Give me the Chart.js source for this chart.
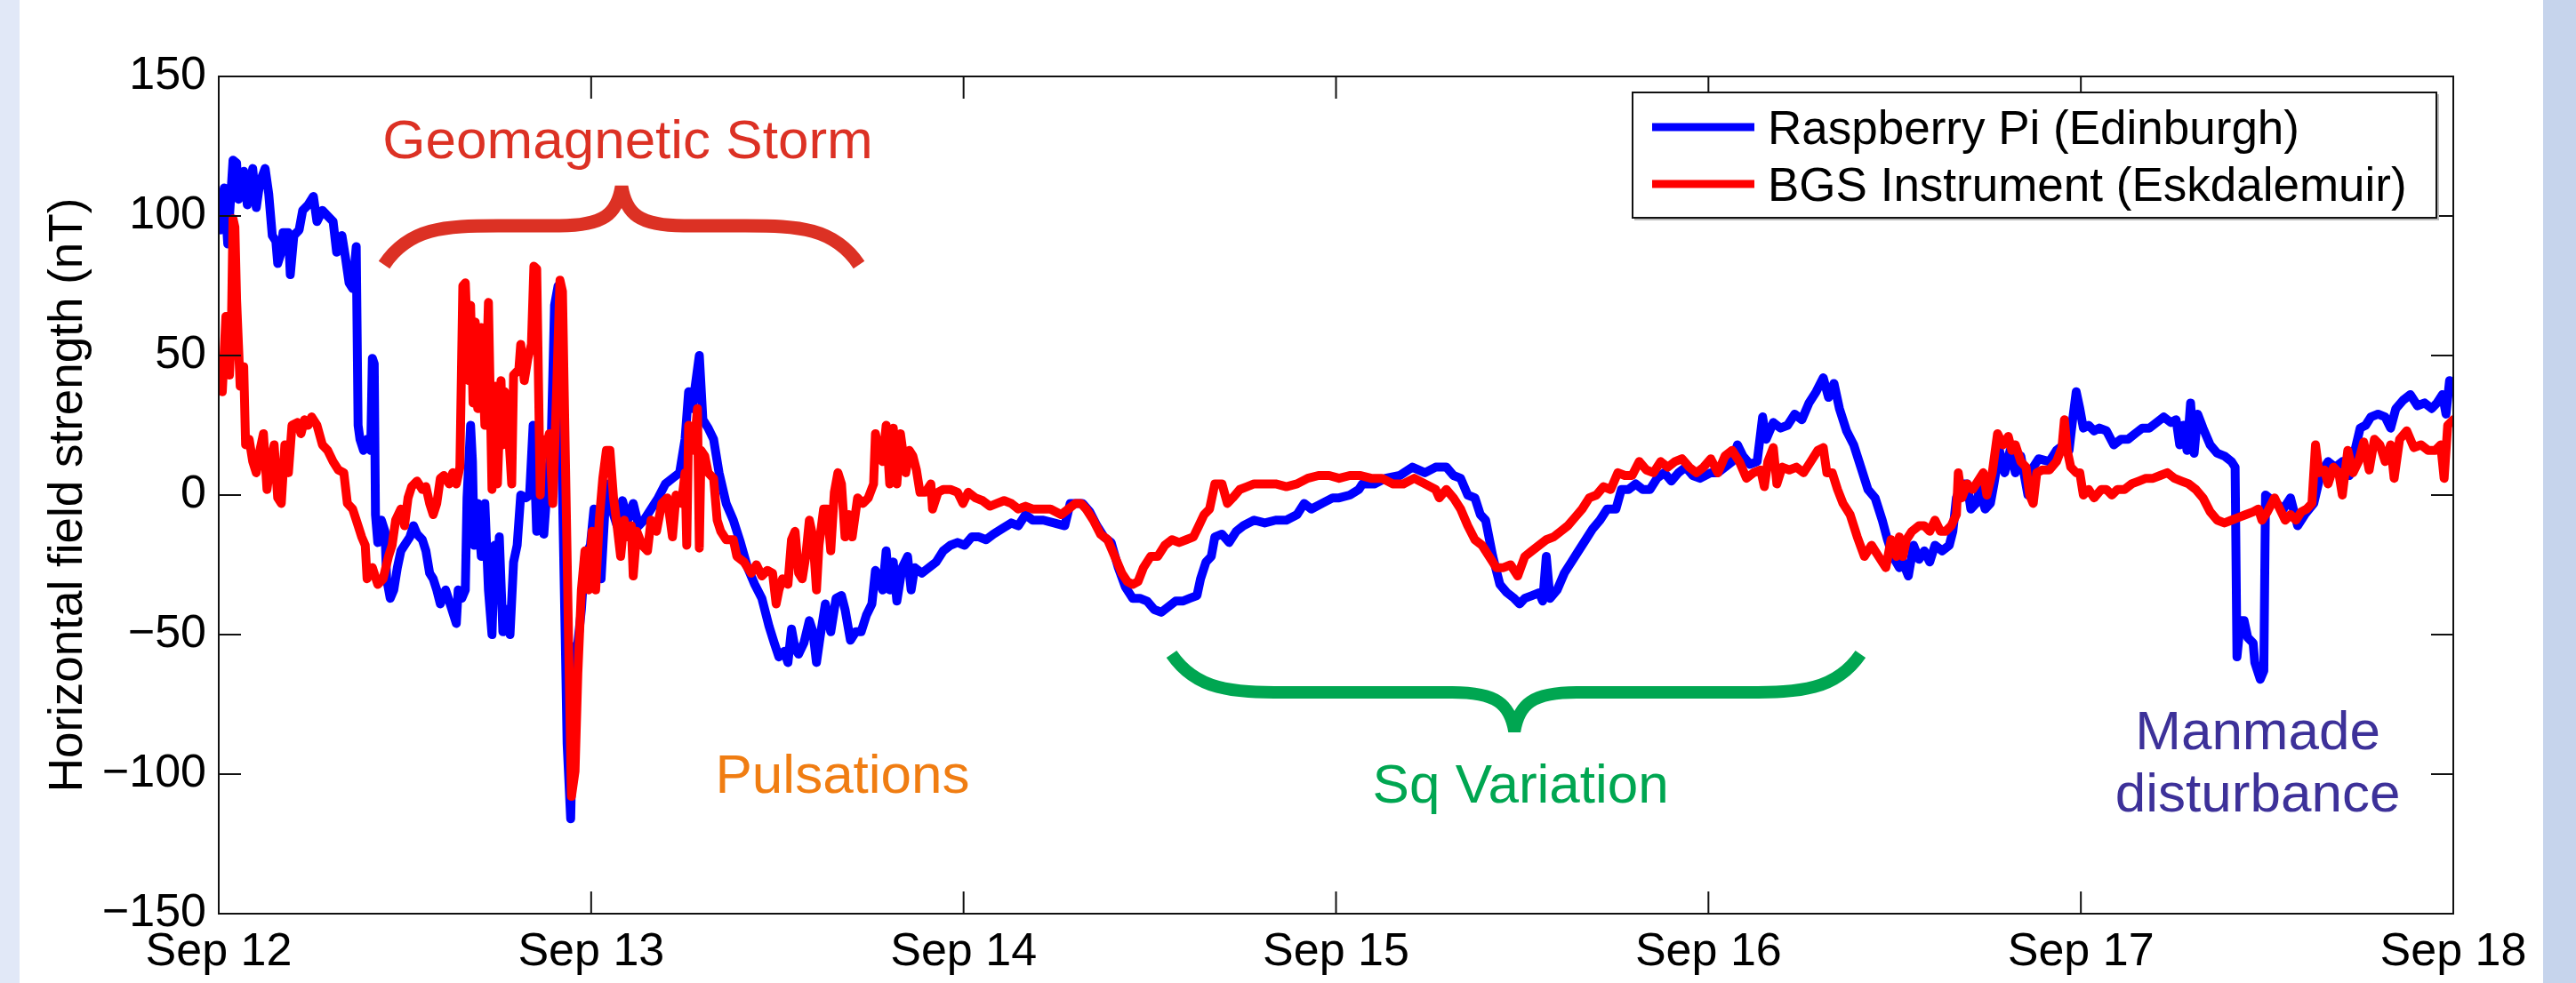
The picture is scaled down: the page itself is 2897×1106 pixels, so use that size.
<!DOCTYPE html>
<html>
<head>
<meta charset="utf-8">
<script src="https://cdn.jsdelivr.net/npm/chart.js@4.4.1/dist/chart.umd.min.js"></script>
<style>
  html, body { margin: 0; padding: 0; background: #fff; }
</style>
</head>
<body>
<canvas id="chart-field" width="2897" height="1106"></canvas>
<script>
const FONT = '"Liberation Sans", Arial, Helvetica, sans-serif';

// x axis in hours since Sep 12 00:00
const dayLabels = ['Sep 12', 'Sep 13', 'Sep 14', 'Sep 15', 'Sep 16', 'Sep 17', 'Sep 18'];
const seriesNames = ['Raspberry Pi (Edinburgh)', 'BGS Instrument (Eskdalemuir)'];

const piTime = [
    0, 0.12, 0.35, 0.58, 0.92, 1.15, 1.27, 1.61, 1.84, 2.19,
    2.42, 2.65, 2.99, 3.22, 3.45, 3.68, 3.80, 4.03, 4.14, 4.49,
    4.61, 4.84, 5.18, 5.41, 5.76, 6.10, 6.33, 6.68, 7.02, 7.37,
    7.60, 7.94, 8.17, 8.40, 8.63, 8.86, 8.98, 9.10, 9.33, 9.56,
    9.79, 9.90, 10.02, 10.10, 10.25, 10.48, 10.71, 10.82, 11.05, 11.28,
    11.51, 11.74, 11.97, 12.32, 12.55, 12.78, 13.12, 13.35, 13.59, 13.82,
    14.05, 14.28, 14.62, 14.97, 15.31, 15.43, 15.66, 15.89, 16.00, 16.23,
    16.35, 16.46, 16.69, 16.92, 17.15, 17.38, 17.61, 17.78, 17.96, 18.08,
    18.31, 18.54, 18.77, 19.00, 19.23, 19.46, 19.80, 20.03, 20.26, 20.49,
    20.72, 20.95, 21.18, 21.41, 21.64, 21.87, 22.10, 22.33, 22.45, 22.68,
    22.91, 23.14, 23.37, 23.60, 23.95, 24.18, 24.41, 24.64, 24.98, 25.33,
    25.67, 26.02, 26.36, 26.71, 27.06, 27.40, 27.86, 28.32, 28.78, 29.24,
    29.70, 30.05, 30.28, 30.51, 30.97, 31.20, 31.54, 31.89, 32.24, 32.70,
    33.16, 33.62, 34.08, 34.54, 35.00, 35.46, 35.80,
    36.10, 36.45, 36.68, 36.91, 37.14, 37.37, 37.71, 38.06, 38.29, 38.52,
    38.75, 39.09, 39.44, 39.78, 40.13, 40.36, 40.71, 41.05, 41.40, 41.74,
    42.09, 42.32, 42.55, 42.78, 43.01, 43.24, 43.47, 43.70, 44.04, 44.39,
    44.62, 44.85, 45.31, 45.77, 46.23, 46.69, 47.15, 47.61, 48.07, 48.53,
    48.99, 49.45, 49.92, 50.49, 51.07, 51.53, 51.99, 52.45, 53.14, 53.83,
    54.52, 54.87, 55.33, 55.67, 56.13, 56.59, 57.05, 57.51, 57.97, 58.43,
    58.90, 59.36, 59.82, 60.28, 60.74, 61.20, 61.66, 62.12, 62.58, 63.04,
    63.27, 63.62, 63.96, 64.19, 64.65, 65.11, 65.57, 66.03, 66.72, 67.41,
    68.11, 68.80, 69.49, 69.95, 70.41, 71.10, 71.79,
    72.20, 72.89, 73.47, 73.70, 74.50, 75.19, 76.11, 76.92, 77.73, 78.42,
    79.11, 79.57, 80.03, 80.49, 80.95, 81.30, 81.64, 82.10, 82.56, 83.02,
    83.48, 83.83, 84.17, 84.63, 85.09, 85.32, 85.55, 85.79, 86.25, 86.71,
    87.17, 87.63, 88.09, 88.55, 89.01, 89.47, 90.04, 90.39, 90.85, 91.31,
    91.77, 92.23, 92.69, 93.15, 93.61, 94.07, 94.53, 94.99, 95.46, 96.15,
    96.61, 97.07, 97.53, 97.87, 98.22, 98.68, 99.14, 99.49, 99.72, 100.18,
    100.64, 101.10, 101.56, 102.02, 102.48, 102.94, 103.40, 103.74, 104.09, 104.44,
    104.90, 105.36, 105.82, 106.28, 106.74, 107.20, 107.54, 107.89,
    108.30, 108.53, 108.88, 109.22, 109.57, 109.91, 110.26, 110.60, 111.06, 111.52,
    111.75, 111.98, 112.33, 112.67, 112.91, 113.25, 113.48, 113.83, 114.17, 114.40,
    114.75, 115.09, 115.44, 115.78, 116.13, 116.59, 116.93, 117.28, 117.97, 118.43,
    118.89, 119.24, 119.47, 119.70, 119.93, 120.16, 120.50, 120.85, 121.19, 121.65,
    122.12, 122.58, 123.04, 123.50, 123.96, 124.42, 124.88, 125.34, 125.80, 126.14,
    126.37, 126.61, 126.84, 127.07, 127.30, 127.53, 127.87, 128.33, 128.79, 129.25,
    129.71, 129.94, 130.06, 130.29, 130.52, 130.75, 131.10, 131.21, 131.56, 131.79,
    131.90, 132.13, 132.59, 133.05, 133.51, 133.97, 134.43, 135.01, 135.47, 135.93,
    136.39, 136.85, 137.31, 137.66, 138.00, 138.35, 138.69, 139.15, 139.61, 139.96,
    140.30, 140.77, 141.23, 141.69, 142.15, 142.61, 142.95, 143.30, 143.53, 143.76,
    144
];
const piField = [
    96, 95, 110, 90, 120, 119, 106, 116, 104, 117,
    103, 112, 117, 108, 93, 91, 83, 87, 94, 94,
    79, 93, 95, 102, 104, 107, 98, 102, 100, 98,
    87, 93, 85, 76, 74, 89, 25, 20, 16, 20,
    16, 49, 47, -7, -17, -9, -13, -30, -37, -34,
    -26, -20, -18, -15, -11, -14, -16, -20, -28, -30,
    -34, -39, -34, -40, -46, -34, -37, -34, -1, 25,
    12, -18, -3, -22, -3, -34, -50, -18, -28, -15,
    -49, -41, -50, -24, -18, 0, -1, 0, 25, -13,
    0, -14, 4, 16, 68, 75, 16, -51, -89, -116,
    -55, -53, -41, -22, -18, -5, -17, -30, 4, -5,
    -11, -2, -9, -3, -11, -9, -5, -1, 4, 6,
    8, 20, 37, 31, 50, 27, 24, 20, 8, -3,
    -9, -17, -26, -32, -37, -47, -53,
    -58, -56, -60, -48, -55, -57, -53, -45, -49, -60,
    -51, -39, -49, -37, -36, -41, -52, -49, -49, -43,
    -39, -27, -30, -34, -20, -34, -24, -38, -26, -22,
    -34, -26, -28, -26, -24, -20, -18, -17, -18, -15,
    -15, -16, -14, -12, -10, -11, -7, -9, -9, -10,
    -11, -3, -3, -3, -6, -11, -15, -17, -26, -33,
    -37, -37, -38, -41, -42, -40, -38, -38, -37, -36,
    -30, -24, -22, -15, -14, -17, -13, -11, -9, -10,
    -9, -9, -7, -3, -5, -3, -1,
    -1, 0, 2, 4, 4, 6, 7, 10, 8, 10,
    10, 7, 6, 0, -1, -7, -9, -22, -32, -35,
    -37, -39, -37, -36, -35, -38, -22, -37, -34, -28,
    -24, -20, -16, -12, -9, -5, -5, 2, 2, 4,
    2, 2, 6, 8, 5, 8, 10, 7, 6, 8,
    8, 10, 12, 18, 14, 11, 12, 28, 20, 26,
    24, 25, 29, 27, 33, 37, 42, 35, 40, 31,
    23, 18, 10, 2, -1, -9, -16, -22,
    -26, -24, -29, -18, -23, -20, -24, -18, -20, -18,
    -13, -1, 4, 4, -5, -3, 2, -5, -3, 4,
    16, 8, 16, 8, 14, 0, 10, 13, 12, 16,
    18, 16, 27, 37, 31, 24, 25, 23, 24, 23,
    18, 20, 20, 22, 24, 24, 26, 28, 26, 27,
    18, 25, 16, 33, 15, 29, 24, 18, 15, 14,
    12, 10, -58, -45, -45, -51, -53, -60, -66, -63,
    0, -1, -3, -5, -1, -11, -7, -3, 8, 12,
    10, 12, 7, 16, 24, 25, 28, 29, 28, 24,
    31, 34, 36, 32, 33, 31, 33, 36, 29, 41,
    40
];

const bgsTime = [
    0, 0.23, 0.46, 0.69, 0.81, 0.92, 1.04, 1.15, 1.27, 1.38,
    1.61, 1.73, 1.96, 2.19, 2.42, 2.65, 2.88, 3.11, 3.34, 3.57,
    3.80, 4.03, 4.26, 4.49, 4.72, 5.07, 5.30, 5.53, 5.76, 5.99,
    6.33, 6.68, 7.02, 7.37, 7.71, 8.06, 8.29, 8.63, 8.98, 9.21,
    9.44, 9.56, 9.90, 10.25, 10.59, 10.94, 11.17, 11.40, 11.74, 11.97,
    12.20, 12.43, 12.78, 13.12, 13.35, 13.59, 13.82, 14.05, 14.28, 14.51,
    14.85, 15.08, 15.31, 15.54, 15.73, 15.89, 16.12, 16.23, 16.39, 16.53,
    16.69, 16.92, 17.15, 17.38, 17.61, 17.84, 17.96, 18.19, 18.31, 18.42,
    18.65, 18.88, 19.00, 19.34, 19.46, 19.69, 19.92, 20.15, 20.31, 20.49,
    20.72, 20.84, 21.07, 21.30, 21.53, 21.76, 21.99, 22.15, 22.33, 22.57,
    22.73, 22.96, 23.14, 23.37, 23.60, 23.83, 24.06, 24.29, 24.52, 24.75,
    24.98, 25.21, 25.44, 25.67, 25.90, 26.13, 26.36, 26.59, 26.71, 26.94,
    27.29, 27.63, 27.86, 28.21, 28.55, 28.90, 29.24, 29.47, 29.82, 30.05,
    30.16, 30.28, 30.62, 30.85, 30.97, 31.08, 31.32, 31.54, 31.89, 32.12,
    32.35, 32.70, 33.16, 33.39, 33.85, 34.31, 34.65, 35.00, 35.35, 35.69,
    35.92,
    36.10, 36.33, 36.68, 36.91, 37.14, 37.37, 37.60, 37.83, 38.06, 38.29,
    38.52, 38.68, 38.98, 39.21, 39.44, 39.67, 39.90, 40.13, 40.36, 40.59,
    40.82, 41.17, 41.51, 41.86, 42.20, 42.32, 42.55, 42.78, 43.01, 43.24,
    43.47, 43.70, 43.93, 44.27, 44.50, 44.73, 44.96, 45.19, 45.54, 45.89,
    46.00, 46.35, 46.69, 47.15, 47.61, 47.96, 48.30, 48.76, 49.22, 49.69,
    50.15, 50.61, 51.07, 51.53, 51.99, 52.45, 52.91, 53.60, 54.29, 54.75,
    55.21, 55.56, 55.90, 56.36, 56.82, 57.28, 57.74, 58.20, 58.55, 58.90,
    59.24, 59.59, 60.05, 60.51, 60.97, 61.43, 61.89, 62.35, 62.81, 63.16,
    63.50, 63.85, 64.19, 64.65, 65.00, 65.34, 65.80, 66.26, 66.72, 67.41,
    68.11, 68.80, 69.49, 70.18, 70.87, 71.56,
    72.20, 72.89, 73.58, 74.27, 74.96, 75.65, 76.34, 77.04, 77.73, 78.42,
    78.65, 79.11, 79.57, 80.03, 80.49, 80.95, 81.41, 81.87, 82.33, 82.79,
    83.25, 83.71, 84.17, 84.63, 85.09, 85.55, 86.02, 86.48, 86.94, 87.40,
    87.86, 88.32, 88.78, 89.24, 89.70, 90.16, 90.62, 91.08, 91.54, 92.00,
    92.46, 92.92, 93.38, 93.84, 94.30, 94.76, 95.23, 95.69, 96.15, 96.61,
    97.07, 97.53, 97.99, 98.45, 98.91, 99.37, 99.60, 99.83, 100.18, 100.41,
    100.75, 101.21, 101.67, 102.13, 102.59, 103.05, 103.40, 103.63, 103.98, 104.32,
    104.67, 105.13, 105.59, 106.05, 106.51, 106.97, 107.43, 107.77, 108.12,
    108.30, 108.53, 108.76, 109.11, 109.57, 109.91, 110.26, 110.60, 110.95, 111.29,
    111.64, 111.98, 112.10, 112.33, 112.67, 113.02, 113.37, 113.71, 113.94, 114.29,
    114.63, 114.98, 115.32, 115.55, 115.78, 116.13, 116.47, 116.70, 116.93, 117.16,
    117.51, 117.97, 118.43, 118.78, 118.94, 119.12, 119.35, 119.70, 119.93, 120.16,
    120.50, 120.85, 121.31, 121.65, 122.00, 122.35, 122.81, 123.27, 123.73, 124.19,
    124.65, 125.11, 125.57, 126.03, 126.49, 126.95, 127.41, 127.87, 128.33, 128.79,
    129.25, 129.71, 130.17, 130.63, 131.10, 131.44, 131.67, 132.02, 132.48, 132.82,
    133.17, 133.51, 133.86, 134.20, 134.55, 134.89, 135.12, 135.35, 135.70, 135.93,
    136.28, 136.62, 136.85, 137.20, 137.54, 137.89, 138.23, 138.58, 138.92, 139.27,
    139.61, 139.96, 140.19, 140.54, 141.00, 141.46, 141.92, 142.38, 142.84, 143.19,
    143.41, 143.64, 144
];
const bgsField = [
    46, 37, 64, 43, 58, 99, 96, 70, 54, 39,
    46, 18, 20, 12, 8, 16, 22, 2, 12, 18,
    -1, -3, 18, 8, 25, 26, 22, 27, 25, 28,
    25, 18, 16, 12, 9, 8, -3, -5, -11, -15,
    -18, -30, -26, -32, -30, -22, -18, -9, -5, -11,
    -1, 3, 5, 2, 3, -3, -7, -3, 6, 7,
    4, 8, 4, 10, 75, 76, 41, 68, 33, 62,
    31, 60, 25, 69, 2, 39, 4, 41, 18, 37,
    25, 4, 43, 45, 54, 41, 49, 54, 82, 81,
    0, 20, 16, 22, -3, 35, 77, 73, 16, -60,
    -108, -99, -64, -34, -20, -34, -13, -34, -9, 6,
    16, 16, -1, -11, -22, -9, -15, -11, -29, -13,
    -18, -20, -9, -13, -3, -1, -15, 0, -3, 8,
    -18, 25, 16, 31, -19, 16, 14, 8, 6, -9,
    -13, -16, -16, -22, -24, -28, -25, -29, -27, -28,
    -39,
    -34, -30, -32, -16, -13, -28, -30, -22, -9, -15,
    -34, -18, -5, -5, -20, 1, 8, 4, -15, -7,
    -15, -1, -3, -1, 4, 22, 16, 12, 25, 4,
    24, 4, 22, 8, 16, 14, 9, 1, 1, 4,
    -5, 1, 2, 2, 1, -3, 1, -1, -2, -4,
    -3, -2, -3, -5, -4, -5, -5, -5, -7, -5,
    -3, -3, -5, -9, -14, -16, -22, -28, -31, -32,
    -31, -26, -22, -22, -18, -16, -17, -16, -15, -11,
    -7, -5, 4, 4, -3, -1, 2, 3, 4, 4,
    4, 3, 4, 6, 7, 7,
    6, 7, 7, 6, 6, 4, 4, 6, 4, 2,
    -1, 2, -1, -5, -11, -16, -18, -22, -26, -26,
    -25, -29, -22, -20, -18, -16, -15, -13, -11, -8,
    -5, -1, 0, 3, 2, 8, 7, 7, 12, 9,
    8, 12, 10, 12, 13, 10, 8, 10, 13, 8,
    14, 16, 12, 6, 8, 9, 3, 12, 17, 4,
    10, 9, 10, 8, 12, 16, 17, 8, 8, 2,
    -3, -7, -15, -22, -18, -22, -26, -16, -22,
    -15, -22, -16, -13, -11, -11, -13, -9, -13, -13,
    -11, -7, 8, -1, 4, 2, 5, 8, 0, 8,
    22, 18, 21, 16, 18, 12, 10, 0, -3, 8,
    9, 9, 12, 17, 27, 16, 10, 8, 8, 0,
    2, -1, 2, 2, 0, 2, 2, 4, 5, 6,
    6, 7, 8, 6, 5, 4, 2, -1, -6, -9,
    -10, -9, -8, -7, -6, -5, -9, -6, -1, -5,
    -9, -7, -9, -6, -5, -3, 18, 8, 9, 4,
    10, 8, 0, 16, 8, 12, 19, 9, 20, 18,
    12, 18, 6, 20, 23, 17, 18, 16, 16, 18,
    6, 25, 27
];

if (piTime.length !== piField.length || bgsTime.length !== bgsField.length) {
    console.warn('length mismatch', piTime.length, piField.length, bgsTime.length, bgsField.length);
}

function toPoints(ts, vs) {
    return ts.map((t, i) => ({ x: t, y: vs[i] }));
}

// brace from x1 to x2 with its point at xTip; ends at yEnd, bar at yBar, point at yTip (data units)
function drawBrace(ctx, xs, ys, colour, width, x1, x2, xTip, yEnd, yBar, yTip) {
    const L = xs.getPixelForValue(x1), R = xs.getPixelForValue(x2), T = xs.getPixelForValue(xTip);
    const e = ys.getPixelForValue(yEnd), b = ys.getPixelForValue(yBar), t = ys.getPixelForValue(yTip);
    const dy = b - e, dt = t - b;
    ctx.save();
    ctx.strokeStyle = colour;
    ctx.lineWidth = width;
    ctx.lineCap = 'butt';
    ctx.lineJoin = 'bevel';
    ctx.beginPath();
    ctx.moveTo(L, e);
    ctx.bezierCurveTo(L + 28, e + 0.95 * dy, L + 68, b, L + 128, b);
    ctx.lineTo(T - 70, b);
    ctx.bezierCurveTo(T - 20, b, T - 5, b + 0.3 * dt, T, t);
    ctx.bezierCurveTo(T + 5, b + 0.3 * dt, T + 20, b, T + 70, b);
    ctx.lineTo(R - 128, b);
    ctx.bezierCurveTo(R - 68, b, R - 28, e + 0.95 * dy, R, e);
    ctx.stroke();
    ctx.restore();
}

function drawNote(ctx, xs, ys, text, colour, x, y) {
    ctx.save();
    ctx.fillStyle = colour;
    ctx.font = `62px ${FONT}`;
    ctx.textAlign = 'center';
    ctx.textBaseline = 'alphabetic';
    ctx.fillText(text, xs.getPixelForValue(x), ys.getPixelForValue(y));
    ctx.restore();
}

const figurePlugin = {
    id: 'figure',
    beforeDraw(chart) {
        const { ctx, width, height } = chart;
        ctx.save();
        ctx.fillStyle = '#ffffff';
        ctx.fillRect(0, 0, width, height);
        ctx.fillStyle = '#e1e8f7';
        ctx.fillRect(0, 0, 22, height);
        ctx.fillStyle = '#c6d4ec';
        ctx.fillRect(2860, 0, width - 2860, height);
        ctx.restore();
    },
    afterDatasetsDraw(chart) {
        const { ctx, chartArea: a, scales: { x: xs, y: ys } } = chart;
        ctx.save();

        // box and inward ticks, MATLAB style
        ctx.strokeStyle = '#111';
        ctx.lineWidth = 2;
        ctx.strokeRect(a.left, a.top, a.right - a.left, a.bottom - a.top);
        ctx.beginPath();
        ys.ticks.forEach(tk => {
            const py = ys.getPixelForValue(tk.value);
            ctx.moveTo(a.left, py); ctx.lineTo(a.left + 25, py);
            ctx.moveTo(a.right, py); ctx.lineTo(a.right - 25, py);
        });
        xs.ticks.forEach(tk => {
            const px = xs.getPixelForValue(tk.value);
            ctx.moveTo(px, a.bottom); ctx.lineTo(px, a.bottom - 25);
            ctx.moveTo(px, a.top); ctx.lineTo(px, a.top + 25);
        });
        ctx.stroke();

        // annotations
        drawBrace(ctx, xs, ys, '#dc3124', 15, 10.66, 41.26, 25.96, 82.5, 96.5, 110.5);
        drawNote(ctx, xs, ys, 'Geomagnetic Storm', '#dc3124', 26.36, 120.7);
        drawNote(ctx, xs, ys, 'Pulsations', '#f07d12', 40.2, -106.7);
        drawBrace(ctx, xs, ys, '#00a651', 14, 61.4, 105.8, 83.5, -57, -70.7, -84.7);
        drawNote(ctx, xs, ys, 'Sq Variation', '#00a651', 83.9, -110.2);
        drawNote(ctx, xs, ys, 'Manmade', '#3d3199', 131.4, -91.1);
        drawNote(ctx, xs, ys, 'disturbance', '#3d3199', 131.4, -113.4);

        // legend box
        const bx = a.right - 923, by = a.top + 18, bw = 904, bh = 141;
        ctx.fillStyle = '#ffffff';
        ctx.fillRect(bx, by, bw, bh);
        ctx.strokeStyle = '#bbb';
        ctx.lineWidth = 2;
        ctx.beginPath();
        ctx.moveTo(bx + 2, by + bh + 2); ctx.lineTo(bx + bw + 2, by + bh + 2); ctx.lineTo(bx + bw + 2, by + 2);
        ctx.stroke();
        ctx.strokeStyle = '#111';
        ctx.strokeRect(bx, by, bw, bh);
        ctx.font = `53px ${FONT}`;
        ctx.textAlign = 'left';
        ctx.textBaseline = 'alphabetic';
        chart.data.datasets.forEach((ds, i) => {
            const ly = by + 39 + i * 64;
            ctx.strokeStyle = ds.borderColor;
            ctx.lineWidth = 9;
            ctx.beginPath();
            ctx.moveTo(bx + 22, ly); ctx.lineTo(bx + 137, ly);
            ctx.stroke();
            ctx.fillStyle = '#000';
            ctx.fillText(ds.label, bx + 152, ly + 19);
        });
        ctx.restore();
    }
};

document.addEventListener('DOMContentLoaded', () => {
    const ctx = document.getElementById('chart-field');
    new Chart(ctx, {
        type: 'line',
        data: {
            datasets: [
                { label: seriesNames[0], data: toPoints(piTime, piField), borderColor: '#0000ff', order: 2 },
                { label: seriesNames[1], data: toPoints(bgsTime, bgsField), borderColor: '#ff0000', order: 1 }
            ]
        },
        options: {
            responsive: false,
            animation: false,
            devicePixelRatio: 1,
            layout: { padding: { left: 0, right: 138, top: 86, bottom: 0 } },
            elements: {
                point: { radius: 0 },
                line: { borderWidth: 10, tension: 0, borderJoinStyle: 'round', borderCapStyle: 'round' }
            },
            plugins: { legend: { display: false }, tooltip: { enabled: false } },
            scales: {
                x: {
                    type: 'linear', min: 0, max: 144,
                    grid: { display: false, drawTicks: false },
                    border: { display: false },
                    ticks: {
                        stepSize: 24, autoSkip: false, maxRotation: 0, padding: 12,
                        color: '#000', font: { family: FONT, size: 52 },
                        callback: v => dayLabels[Math.round(v / 24)]
                    },
                    afterFit: s => { s.height = 78; }
                },
                y: {
                    min: -150, max: 150,
                    grid: { display: false, drawTicks: false },
                    border: { display: false },
                    ticks: {
                        stepSize: 50, padding: 14,
                        color: '#000', font: { family: FONT, size: 52 },
                        callback: v => String(v).replace('-', '\u2212')
                    },
                    title: {
                        display: true, text: 'Horizontal field strength (nT)',
                        color: '#000', font: { family: FONT, size: 53 },
                        padding: { top: 46, bottom: 0 }
                    },
                    afterFit: s => { s.width = 246; }
                }
            }
        },
        plugins: [figurePlugin]
    });
});
</script>
</body>
</html>
